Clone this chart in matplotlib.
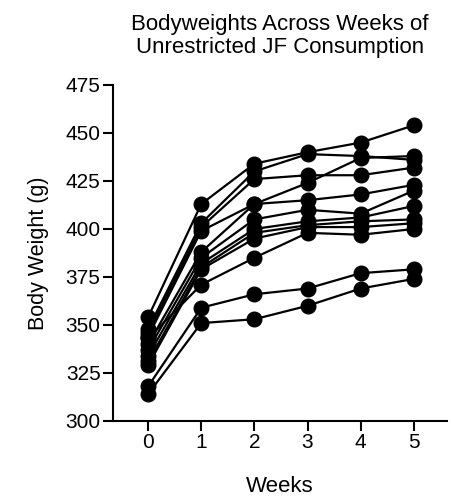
import numpy as np
import matplotlib
matplotlib.use("Agg")
import matplotlib.pyplot as plt

plt.rcParams['font.family'] = ['Liberation Sans', 'DejaVu Sans']

# Semanas
weeks = [0, 1, 2, 3, 4, 5]

# Peso corporal de cada animal (g) por semana
rat01 = [354, 413, 434, 440, 445, 454]
rat02 = [348, 403, 430, 439, 438, 436]
rat03 = [346, 401, 426, 428, 428, 432]
rat04 = [344, 399, 413, 424, 437, 438]
rat05 = [340, 388, 413, 415, 418, 423]
rat06 = [337, 385, 405, 410, 408, 420]
rat07 = [334, 382, 400, 404, 406, 412]
rat08 = [331, 380, 398, 402, 404, 405]
rat09 = [329, 379, 395, 401, 401, 403]
rat10 = [343, 371, 385, 398, 397, 400]
rat11 = [318, 359, 366, 369, 377, 379]
rat12 = [314, 351, 353, 360, 369, 374]

rats = [rat01, rat02, rat03, rat04, rat05, rat06,
        rat07, rat08, rat09, rat10, rat11, rat12]

yticks = [300, 325, 350, 375, 400, 425, 450, 475]

fig = plt.figure(figsize=(4.51, 5.0), dpi=100)
ax = fig.add_axes([0.2506, 0.158, 0.74, 0.672])

for r in rats:
    ax.plot(weeks, r, color='black', linewidth=1.6, marker='o',
            markersize=10.5, markerfacecolor='black', markeredgecolor='black',
            clip_on=False)

ax.set_xlim(-0.66, 5.62)
ax.set_ylim(300, 475)
ax.set_xticks(weeks)
ax.set_yticks(yticks)

ax.spines['top'].set_visible(False)
ax.spines['right'].set_visible(False)
ax.spines['left'].set_linewidth(1.5)
ax.spines['bottom'].set_linewidth(1.5)
ax.tick_params(axis='both', direction='out', length=7, width=1.5,
               labelsize=15, colors='black', pad=2)

ax.set_xlabel('Weeks', fontsize=16, labelpad=17)
ax.set_ylabel('Body Weight (g)', fontsize=15.5, labelpad=12)
ax.set_title('Bodyweights Across Weeks of\nUnrestricted JF Consumption',
             fontsize=16, pad=23, linespacing=1.15)

fig.savefig('out.png', dpi=100)
